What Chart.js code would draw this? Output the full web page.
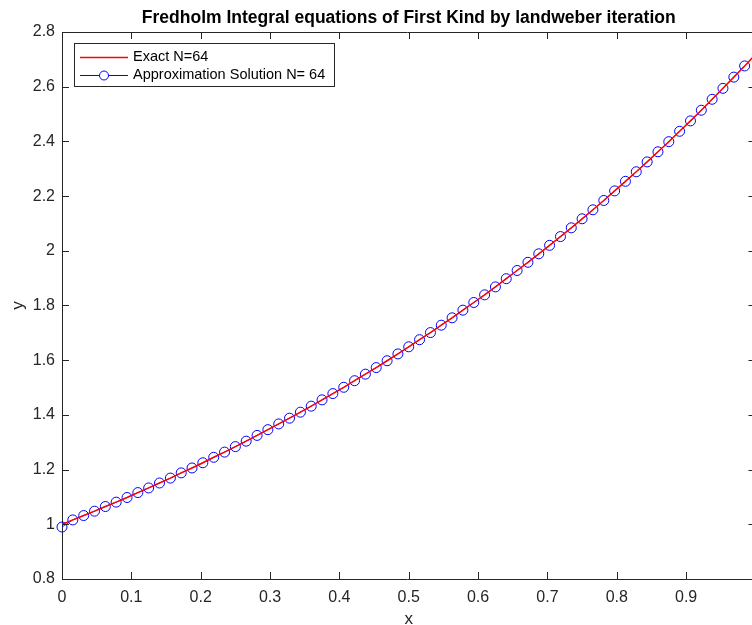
<!DOCTYPE html>
<html>
<head>
<meta charset="utf-8">
<script src="https://cdn.jsdelivr.net/npm/chart.js@4"></script>
<style>
  html, body { margin: 0; padding: 0; background: #fff; }
  #wrap { width: 752px; height: 625px; }
</style>
</head>
<body>
<div id="wrap"><canvas id="chart"></canvas></div>
<script>
// nodes x = i/64
const xs = [0, 0.0156, 0.0313, 0.0469, 0.0625, 0.0781, 0.0938, 0.1094, 0.125, 0.1406,
  0.1563, 0.1719, 0.1875, 0.2031, 0.2188, 0.2344, 0.25, 0.2656, 0.2813, 0.2969,
  0.3125, 0.3281, 0.3438, 0.3594, 0.375, 0.3906, 0.4063, 0.4219, 0.4375, 0.4531,
  0.4688, 0.4844, 0.5, 0.5156, 0.5313, 0.5469, 0.5625, 0.5781, 0.5938, 0.6094,
  0.625, 0.6406, 0.6563, 0.6719, 0.6875, 0.7031, 0.7188, 0.7344, 0.75, 0.7656,
  0.7813, 0.7969, 0.8125, 0.8281, 0.8438, 0.8594, 0.875, 0.8906, 0.9063, 0.9219,
  0.9375, 0.9531, 0.9688, 0.9844, 1.0];

const exactY = [1.000, 1.016, 1.032, 1.048, 1.065, 1.081, 1.098, 1.116, 1.133, 1.151,
  1.169, 1.188, 1.206, 1.225, 1.245, 1.264, 1.284, 1.304, 1.325, 1.346,
  1.367, 1.388, 1.410, 1.432, 1.455, 1.478, 1.501, 1.525, 1.549, 1.573,
  1.598, 1.623, 1.649, 1.675, 1.701, 1.728, 1.755, 1.783, 1.811, 1.839,
  1.868, 1.898, 1.928, 1.958, 1.989, 2.020, 2.052, 2.084, 2.117, 2.150,
  2.184, 2.219, 2.254, 2.289, 2.325, 2.362, 2.399, 2.437, 2.475, 2.514,
  2.554, 2.594, 2.635, 2.676, 2.718];

const approxY = [0.990, 1.016, 1.032, 1.048, 1.065, 1.081, 1.098, 1.116, 1.133, 1.151,
  1.169, 1.188, 1.206, 1.225, 1.245, 1.264, 1.284, 1.304, 1.325, 1.346,
  1.367, 1.388, 1.410, 1.432, 1.455, 1.478, 1.501, 1.525, 1.549, 1.573,
  1.598, 1.623, 1.649, 1.675, 1.701, 1.728, 1.755, 1.783, 1.811, 1.839,
  1.868, 1.898, 1.928, 1.958, 1.989, 2.020, 2.052, 2.084, 2.117, 2.150,
  2.184, 2.219, 2.254, 2.289, 2.325, 2.362, 2.399, 2.437, 2.475, 2.514,
  2.554, 2.594, 2.635, 2.676];

const xTicks = [0, 0.1, 0.2, 0.3, 0.4, 0.5, 0.6, 0.7, 0.8, 0.9];
const yTicks = [0.8, 1, 1.2, 1.4, 1.6, 1.8, 2, 2.2, 2.4, 2.6, 2.8];
const labels = ['Exact N=64', 'Approximation Solution N= 64'];

const FONT = '"Liberation Sans", Arial, Helvetica, sans-serif';
const AXIS = '#262626';

const matlabFrame = {
  id: 'matlabFrame',
  afterDraw: (chart) => {
    const ctx = chart.ctx;
    const a = chart.chartArea;
    const xs_ = chart.scales.x, ys_ = chart.scales.y;
    const right = xs_.getPixelForValue(1.0);
    ctx.save();
    ctx.strokeStyle = AXIS;
    ctx.lineWidth = 1;
    ctx.beginPath();
    ctx.moveTo(a.left, a.top + 0.5);
    ctx.lineTo(right, a.top + 0.5);
    ctx.moveTo(right + 0.5, a.top);
    ctx.lineTo(right + 0.5, a.bottom);
    xTicks.forEach(v => {
      const p = Math.round(xs_.getPixelForValue(v)) + 0.5;
      ctx.moveTo(p, a.bottom); ctx.lineTo(p, a.bottom - 7);
      ctx.moveTo(p, a.top); ctx.lineTo(p, a.top + 7);
    });
    yTicks.forEach(v => {
      const p = Math.round(ys_.getPixelForValue(v)) + 0.5;
      ctx.moveTo(a.left, p); ctx.lineTo(a.left + 7, p);
      ctx.moveTo(right, p); ctx.lineTo(right - 7, p);
    });
    ctx.stroke();

    // title and axis labels
    ctx.fillStyle = '#000';
    ctx.textAlign = 'center';
    ctx.textBaseline = 'middle';
    ctx.font = 'bold 17.5px ' + FONT;
    ctx.fillText('Fredholm Integral equations of First Kind by landweber iteration', (a.left + right) / 2, 18);
    ctx.fillStyle = AXIS;
    ctx.font = '17px ' + FONT;
    ctx.fillText('x', (a.left + right) / 2, 619);
    ctx.save();
    ctx.translate(18, (a.top + a.bottom) / 2);
    ctx.rotate(-Math.PI / 2);
    ctx.fillText('y', 0, 0);
    ctx.restore();

    // legend
    const lx = 74, ly = 43, lw = 260, lh = 43;
    ctx.fillStyle = '#fff';
    ctx.fillRect(lx, ly, lw, lh);
    ctx.strokeStyle = AXIS;
    ctx.strokeRect(lx + 0.5, ly + 0.5, lw, lh);
    ctx.lineWidth = 1.5;
    ctx.strokeStyle = '#ff0000';
    ctx.beginPath();
    ctx.moveTo(80, 57.5); ctx.lineTo(128, 57.5);
    ctx.stroke();
    ctx.lineWidth = 1;
    ctx.strokeStyle = '#0000ff';
    ctx.beginPath();
    ctx.moveTo(80, 75.5); ctx.lineTo(128, 75.5);
    ctx.stroke();
    ctx.fillStyle = '#fff';
    ctx.beginPath();
    ctx.arc(104, 75.5, 4.5, 0, Math.PI * 2);
    ctx.fill();
    ctx.stroke();
    ctx.fillStyle = '#000';
    ctx.textAlign = 'left';
    ctx.font = '14.5px ' + FONT;
    ctx.fillText(labels[0], 133, 57);
    ctx.fillText(labels[1], 133, 75);
    ctx.restore();
  }
};

const tickFmt = (v) => String(+(+v).toFixed(2));

const config = {
  type: 'line',
  data: {
    datasets: [
      {
        label: labels[0],
        data: xs.map((x, i) => ({ x: x, y: exactY[i] })),
        borderColor: '#ff0000',
        borderWidth: 1.5,
        pointRadius: 0,
        tension: 0,
        order: 0,
      },
      {
        label: labels[1],
        data: approxY.map((y, i) => ({ x: xs[i], y: y })),
        borderColor: '#0000ff',
        borderWidth: 0.8,
        pointRadius: 5,
        pointBorderWidth: 1,
        pointBorderColor: '#0000ff',
        pointBackgroundColor: 'rgba(0,0,0,0)',
        tension: 0,
        clip: false,
        order: 1,
      },
    ],
  },
  options: {
    responsive: true,
    maintainAspectRatio: false,
    animation: false,
    layout: { autoPadding: false, padding: { top: 32, left: 0, right: 0, bottom: 0 } },
    plugins: {
      legend: { display: false },
      title: { display: false },
      tooltip: { enabled: false },
    },
    scales: {
      x: {
        type: 'linear',
        min: 0,
        max: 0.995,
        grid: { display: false, drawTicks: false },
        border: { display: true, color: AXIS, width: 1 },
        afterBuildTicks: (s) => { s.ticks = xTicks.map(v => ({ value: v })); },
        afterFit: (s) => { s.height = 46; s.paddingLeft = 0; s.paddingRight = 0; },
        ticks: {
          padding: 9,
          color: AXIS,
          font: { family: FONT, size: 16 },
          maxRotation: 0,
          callback: tickFmt,
        },
      },
      y: {
        type: 'linear',
        min: 0.8,
        max: 2.8,
        grid: { display: false, drawTicks: false },
        border: { display: true, color: AXIS, width: 1 },
        afterBuildTicks: (s) => { s.ticks = yTicks.map(v => ({ value: v })); },
        afterFit: (s) => { s.width = 62; s.paddingTop = 0; s.paddingBottom = 0; },
        ticks: {
          padding: 7,
          color: AXIS,
          font: { family: FONT, size: 16 },
          callback: tickFmt,
        },
      },
    },
  },
  plugins: [matlabFrame],
};

window.addEventListener('load', () => {
  const ctx = document.getElementById('chart').getContext('2d');
  window.myChart = new Chart(ctx, config);
});
</script>
</body>
</html>
